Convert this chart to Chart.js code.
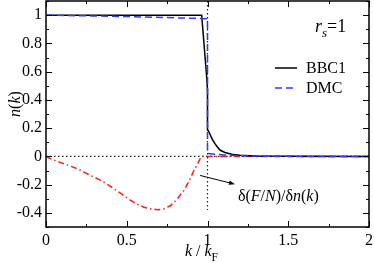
<!DOCTYPE html>
<html>
<head>
<meta charset="utf-8">
<script src="https://cdn.jsdelivr.net/npm/chart.js@4.4.0/dist/chart.umd.min.js"></script>
<style>
  html, body { margin: 0; padding: 0; background: #fff; }
  #wrap { width: 374px; height: 263px; }
</style>
</head>
<body>
<div id="wrap"><canvas id="chart" width="374" height="263"></canvas></div>
<script>
// momentum distribution, BBC1 functional
const bbc1K = [0, 0.964, 0.995, 1.0, 1.0, 1.008, 1.016, 1.03, 1.046, 1.06, 1.077, 1.108, 1.15, 1.2, 1.3, 1.5, 2.0];
const bbc1N = [1, 1, 0.56, 0.47, 0.19, 0.175, 0.155, 0.12, 0.09, 0.068, 0.045, 0.028, 0.015, 0.008, 0.003, 0.0005, 0];

// DMC reference
const dmcK = [0, 0.5, 0.9, 0.995, 1.0, 1.0, 1.05, 1.1, 1.2, 1.3, 1.5, 2.0];
const dmcN = [1, 0.99, 0.978, 0.975, 0.975, 0.02, 0.015, 0.01, 0.005, 0.002, 0, 0];

// derivada funcional delta(F/N)/delta n(k)
const derivK = [0, 0.029, 0.1, 0.194, 0.25, 0.318, 0.37, 0.421, 0.47, 0.524, 0.567, 0.607, 0.65, 0.69, 0.73, 0.772, 0.81, 0.854, 0.886, 0.916, 0.94, 0.962, 1.0, 1.5, 2.0];
const derivV = [0, -0.017, -0.048, -0.087, -0.12, -0.158, -0.19, -0.229, -0.268, -0.312, -0.34, -0.36, -0.372, -0.378, -0.372, -0.348, -0.305, -0.241, -0.175, -0.1, -0.05, 0, 0, 0, 0];

// linhas de referência pontilhadas
const fermiLineK = [1, 1];
const fermiLineV = [1.1, -0.38];
const zeroLineK = [0, 2];
const zeroLineV = [0, 0];

// seta da anotação (coordenadas de dados)
const arrowFrom = [0.954, -0.135];
const arrowTo = [1.17, -0.197];

// eixos
const xTickValues = [0, 0.5, 1, 1.5, 2];
const xTickLabels = ['0', '0.5', '1', '1.5', '2'];
const xMinorTicks = [0.25, 0.75, 1.25, 1.75];
const yTickValues = [-0.4, -0.2, 0, 0.2, 0.4, 0.6, 0.8, 1];
const yTickLabels = ['-0.4', '-0.2', '0', '0.2', '0.4', '0.6', '0.8', '1'];
const yMinorTicks = [-0.5, -0.3, -0.1, 0.1, 0.3, 0.5, 0.7, 0.9, 1.1];

const legendLabels = ['BBC1', 'DMC'];

const SERIF = '"Liberation Serif", "Times New Roman", Times, "DejaVu Serif", serif';
const BLUE = '#2a3cff';
const RED = '#ff1a1a';

const toXY = (xs, ys) => xs.map((x, i) => ({ x: x, y: ys[i] }));

// desenha um texto com partes em itálico / subscrito
function drawRich(ctx, parts, x, y, size) {
    let cx = x;
    parts.forEach(p => {
        const fs = p.sub ? size * 0.72 : size;
        ctx.font = (p.it ? 'italic ' : '') + fs + 'px ' + SERIF;
        ctx.fillText(p.t, cx, y + (p.sub ? size * 0.3 : 0));
        cx += ctx.measureText(p.t).width;
    });
    return cx - x;
}
function richWidth(ctx, parts, size) {
    let w = 0;
    parts.forEach(p => {
        const fs = p.sub ? size * 0.72 : size;
        ctx.font = (p.it ? 'italic ' : '') + fs + 'px ' + SERIF;
        w += ctx.measureText(p.t).width;
    });
    return w;
}

const decorPlugin = {
    id: 'decor',
    afterDatasetsDraw(chart) {
        const ctx = chart.ctx;
        const a = chart.chartArea;
        const xs = chart.scales.x, ys = chart.scales.y;
        ctx.save();
        ctx.strokeStyle = '#000';
        ctx.fillStyle = '#000';

        // moldura
        ctx.lineWidth = 1.5;
        ctx.strokeRect(a.left, a.top, a.right - a.left, a.bottom - a.top);

        // ticks para dentro nos quatro lados
        ctx.lineWidth = 1;
        ctx.beginPath();
        const tickX = (v, len) => {
            const px = Math.round(xs.getPixelForValue(v)) + 0.5;
            ctx.moveTo(px, a.bottom); ctx.lineTo(px, a.bottom - len);
            ctx.moveTo(px, a.top); ctx.lineTo(px, a.top + len);
        };
        const tickY = (v, len) => {
            const py = Math.round(ys.getPixelForValue(v)) + 0.5;
            ctx.moveTo(a.left, py); ctx.lineTo(a.left + len, py);
            ctx.moveTo(a.right, py); ctx.lineTo(a.right - len, py);
        };
        xTickValues.forEach(v => tickX(v, 6));
        xMinorTicks.forEach(v => tickX(v, 3));
        yTickValues.forEach(v => tickY(v, 6));
        yMinorTicks.forEach(v => tickY(v, 3));
        ctx.stroke();

        // seta
        const x0 = xs.getPixelForValue(arrowFrom[0]), y0 = ys.getPixelForValue(arrowFrom[1]);
        const x1 = xs.getPixelForValue(arrowTo[0]), y1 = ys.getPixelForValue(arrowTo[1]);
        const ang = Math.atan2(y1 - y0, x1 - x0);
        ctx.lineWidth = 1;
        ctx.beginPath();
        ctx.moveTo(x0, y0); ctx.lineTo(x1 - 4 * Math.cos(ang), y1 - 4 * Math.sin(ang));
        ctx.stroke();
        ctx.beginPath();
        ctx.moveTo(x1, y1);
        ctx.lineTo(x1 - 6 * Math.cos(ang) + 2.2 * Math.sin(ang), y1 - 6 * Math.sin(ang) - 2.2 * Math.cos(ang));
        ctx.lineTo(x1 - 6 * Math.cos(ang) - 2.2 * Math.sin(ang), y1 - 6 * Math.sin(ang) + 2.2 * Math.cos(ang));
        ctx.closePath();
        ctx.fill();

        ctx.textBaseline = 'alphabetic';
        ctx.textAlign = 'left';

        // rótulo da derivada
        drawRich(ctx, [
            { t: 'δ(' }, { t: 'F', it: true }, { t: '/' }, { t: 'N', it: true },
            { t: ')/δ' }, { t: 'n', it: true }, { t: '(' }, { t: 'k', it: true }, { t: ')' }
        ], x1 + 3, y1 + 17, 16);

        // r_s = 1
        drawRich(ctx, [{ t: 'r', it: true }, { t: 's', it: true, sub: true }, { t: '=1' }],
            a.right - 54, a.top + 31, 18);

        // legenda
        const styles = [
            { color: '#000', dash: [] },
            { color: BLUE, dash: [7, 4] }
        ];
        legendLabels.forEach((lab, i) => {
            const ly = a.top + 67 + i * 20;
            ctx.strokeStyle = styles[i].color;
            ctx.lineWidth = 1.5;
            ctx.setLineDash(styles[i].dash);
            ctx.beginPath();
            ctx.moveTo(a.right - 94, ly); ctx.lineTo(a.right - 72, ly);
            ctx.stroke();
            ctx.setLineDash([]);
            ctx.font = '16px ' + SERIF;
            ctx.fillText(lab, a.right - 63, ly + 5);
        });

        // título do eixo x: k / k_F
        const xParts = [{ t: 'k', it: true }, { t: ' / ' }, { t: 'k', it: true }, { t: 'F', sub: true }];
        const xw = richWidth(ctx, xParts, 16);
        drawRich(ctx, xParts, (a.left + a.right) / 2 - 6 - xw / 2, 256, 16);

        // título do eixo y: n(k)
        const yParts = [{ t: 'n', it: true }, { t: '(' }, { t: 'k', it: true }, { t: ')' }];
        const yw = richWidth(ctx, yParts, 16);
        ctx.translate(20, 104);
        ctx.rotate(-Math.PI / 2);
        drawRich(ctx, yParts, -yw / 2, 0, 16);

        ctx.restore();
    }
};

new Chart(document.getElementById('chart'), {
    type: 'line',
    data: {
        datasets: [
            {
                label: 'fermi',
                data: toXY(fermiLineK, fermiLineV),
                borderColor: '#222', borderWidth: 1.2, borderDash: [1.5, 2.5],
                pointRadius: 0, order: 5
            },
            {
                label: 'zero',
                data: toXY(zeroLineK, zeroLineV),
                borderColor: '#222', borderWidth: 1.2, borderDash: [1.5, 2.5],
                pointRadius: 0, order: 4
            },
            {
                label: 'deriv',
                data: toXY(derivK, derivV),
                borderColor: RED, borderWidth: 1.5, borderDash: [6, 3, 1.5, 3],
                pointRadius: 0, order: 3
            },
            {
                label: 'BBC1',
                data: toXY(bbc1K, bbc1N),
                borderColor: '#000', borderWidth: 1.5,
                pointRadius: 0, order: 2
            },
            {
                label: 'DMC',
                data: toXY(dmcK, dmcN),
                borderColor: BLUE, borderWidth: 1.5, borderDash: [7, 4],
                pointRadius: 0, order: 1
            }
        ]
    },
    options: {
        responsive: false,
        animation: false,
        layout: { padding: { top: 1, right: 5, left: 0, bottom: 0 } },
        plugins: { legend: { display: false }, tooltip: { enabled: false } },
        elements: { line: { tension: 0, borderCapStyle: 'butt' } },
        scales: {
            x: {
                type: 'linear', min: 0, max: 2,
                grid: { display: false, drawTicks: false },
                border: { display: false },
                afterBuildTicks: (s) => { s.ticks = xTickValues.map(v => ({ value: v })); },
                afterFit: (s) => { s.height = 36; s.paddingLeft = 0; s.paddingRight = 0; },
                ticks: {
                    padding: 4, color: '#000', maxRotation: 0,
                    font: { family: SERIF, size: 16 },
                    callback: (v) => xTickLabels[xTickValues.indexOf(v)]
                }
            },
            y: {
                type: 'linear', min: -0.5, max: 1.1,
                grid: { display: false, drawTicks: false },
                border: { display: false },
                afterBuildTicks: (s) => { s.ticks = yTickValues.map(v => ({ value: v })); },
                afterFit: (s) => { s.width = 46; s.paddingTop = 0; s.paddingBottom = 0; },
                ticks: {
                    padding: 4, color: '#000',
                    font: { family: SERIF, size: 16 },
                    callback: (v) => yTickLabels[yTickValues.indexOf(v)]
                }
            }
        }
    },
    plugins: [decorPlugin]
});
</script>
</body>
</html>
